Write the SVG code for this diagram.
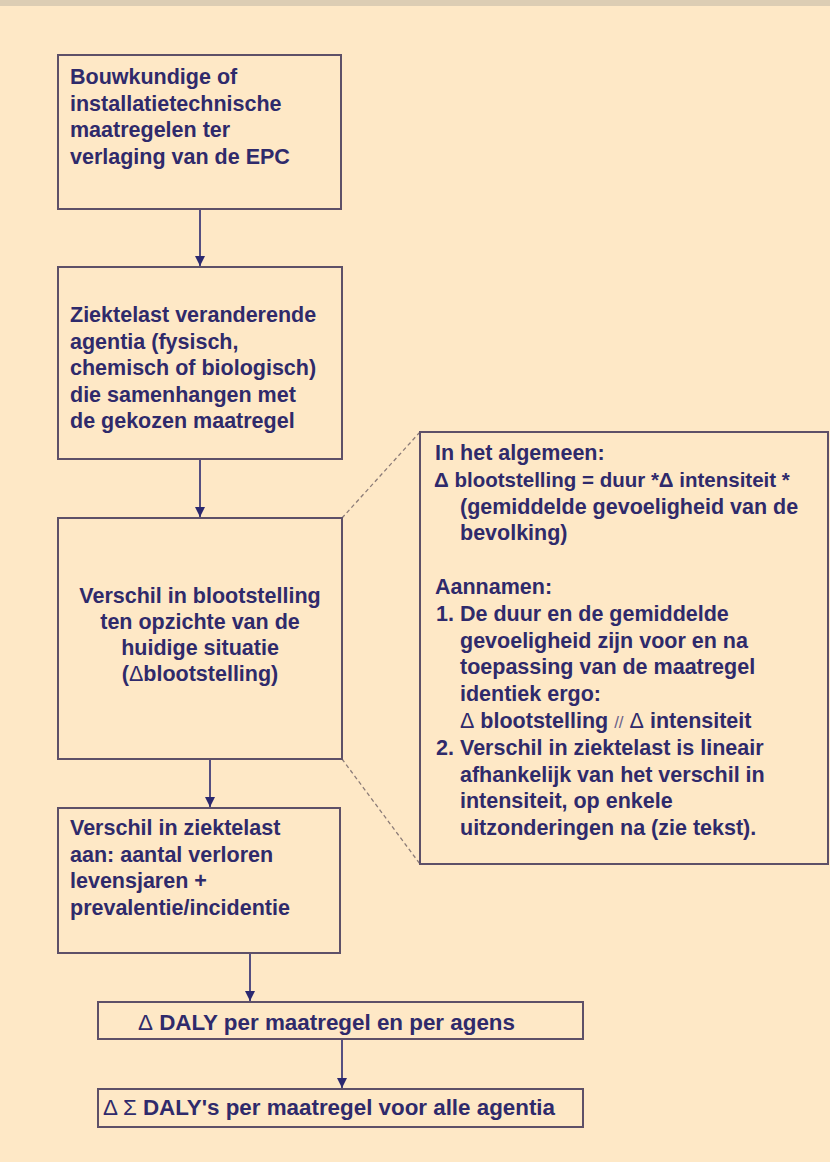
<svg xmlns="http://www.w3.org/2000/svg" width="830" height="1162" viewBox="0 0 830 1162">
<style>
.box{fill:none;stroke:#5E5068;stroke-width:2}
.t{font-family:"Liberation Sans",Arial,sans-serif;font-size:21.5px;font-weight:bold;fill:#2F2A6B}
.b{font-size:22px}
.c{text-anchor:middle}
.sym{font-weight:normal}
.sl{font-weight:normal;font-size:17px;fill:#6A628A}
.arr{stroke:#2B2870;stroke-width:1.6;fill:none;marker-end:url(#ah)}
.dash{stroke:#8C7C78;stroke-width:1.3;stroke-dasharray:4 3;fill:none}
</style>
<defs>
<marker id="ah" viewBox="0 0 10 10" refX="10" refY="5" markerWidth="10" markerHeight="10" markerUnits="userSpaceOnUse" orient="auto">
<path d="M0,0 L10,5 L0,10 Z" fill="#2B2870"/>
</marker>
</defs>
<rect x="0" y="0" width="830" height="1162" fill="#FEE8C6"/>
<rect x="0" y="0" width="830" height="6" fill="#DCCDB4"/>

<g id="connectors">
<line class="arr" x1="200" y1="210" x2="200" y2="266"/>
<line class="arr" x1="200" y1="460" x2="200" y2="517"/>
<line class="arr" x1="210" y1="760" x2="210" y2="807"/>
<line class="arr" x1="250" y1="954" x2="250" y2="1001"/>
<line class="arr" x1="342" y1="1040" x2="342" y2="1088"/>
<line class="dash" x1="342" y1="518" x2="420" y2="432"/>
<line class="dash" x1="342" y1="759" x2="420" y2="864"/>
</g>

<g id="n1">
<rect class="box" x="58" y="55" width="283" height="154"/>
<text class="t" x="70" y="84">Bouwkundige of</text>
<text class="t" x="70" y="110.5">installatietechnische</text>
<text class="t" x="70" y="137">maatregelen ter</text>
<text class="t" x="70" y="163.5">verlaging van de EPC</text>
</g>

<g id="n2">
<rect class="box" x="58" y="267" width="284" height="192"/>
<text class="t" x="70" y="322">Ziektelast veranderende</text>
<text class="t" x="70" y="348.5">agentia (fysisch,</text>
<text class="t" x="70" y="375">chemisch of biologisch)</text>
<text class="t" x="70" y="401.5">die samenhangen met</text>
<text class="t" x="70" y="428">de gekozen maatregel</text>
</g>

<g id="n3">
<rect class="box" x="58" y="518" width="284" height="241"/>
<text class="t c" x="200" y="603">Verschil in blootstelling</text>
<text class="t c" x="200" y="629">ten opzichte van de</text>
<text class="t c" x="200" y="655">huidige situatie</text>
<text class="t c" x="200" y="681">(<tspan class="sym">Δ</tspan>blootstelling)</text>
</g>

<g id="n4">
<rect class="box" x="58" y="808" width="282" height="145"/>
<text class="t" x="70" y="835">Verschil in ziektelast</text>
<text class="t" x="70" y="861.5">aan: aantal verloren</text>
<text class="t" x="70" y="888">levensjaren +</text>
<text class="t" x="70" y="914.5">prevalentie/incidentie</text>
</g>

<g id="n5">
<rect class="box" x="98" y="1002" width="485" height="37"/>
<text class="t b" x="138" y="1030" textLength="377" lengthAdjust="spacingAndGlyphs"><tspan class="sym">Δ</tspan> DALY per maatregel en per agens</text>
</g>

<g id="n6">
<rect class="box" x="98" y="1089" width="485" height="38"/>
<text class="t b" x="103" y="1115" textLength="452" lengthAdjust="spacingAndGlyphs"><tspan class="sym">Δ Σ</tspan> DALY's per maatregel voor alle agentia</text>
</g>

<g id="note">
<rect class="box" x="420" y="432" width="408" height="432"/>
<text class="t" x="435" y="460">In het algemeen:</text>
<text class="t" x="434" y="486.8" style="font-size:20.5px">Δ blootstelling = duur *Δ intensiteit *</text>
<text class="t" x="460" y="513.6">(gemiddelde gevoeligheid van de</text>
<text class="t" x="460" y="540.4">bevolking)</text>
<text class="t" x="435" y="594">Aannamen:</text>
<text class="t" x="436" y="620.8">1.</text>
<text class="t" x="460" y="620.8">De duur en de gemiddelde</text>
<text class="t" x="460" y="647.6">gevoeligheid zijn voor en na</text>
<text class="t" x="460" y="674.4">toepassing van de maatregel</text>
<text class="t" x="460" y="701.2">identiek ergo:</text>
<text class="t" x="460" y="728"><tspan class="sym">Δ</tspan> blootstelling <tspan class="sl">//</tspan> <tspan class="sym">Δ</tspan> intensiteit</text>
<text class="t" x="436" y="754.8">2.</text>
<text class="t" x="460" y="754.8">Verschil in ziektelast is lineair</text>
<text class="t" x="460" y="781.6">afhankelijk van het verschil in</text>
<text class="t" x="460" y="808.4">intensiteit, op enkele</text>
<text class="t" x="460" y="835.2">uitzonderingen na (zie tekst).</text>
</g>
</svg>
